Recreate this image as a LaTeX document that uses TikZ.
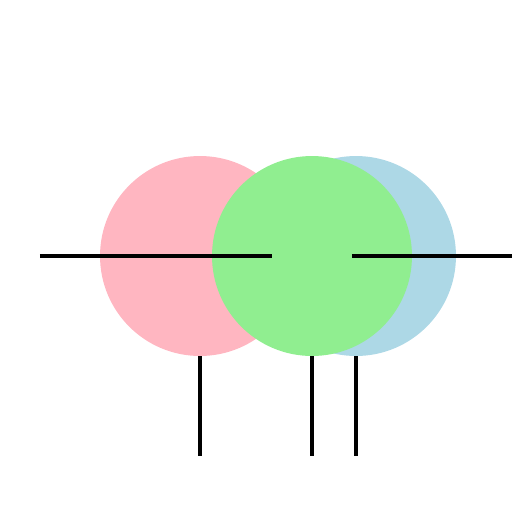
\documentclass[tikz,border=0pt]{standalone}
\usetikzlibrary{positioning}
\definecolor{lpink}{HTML}{FFB6C1}
\definecolor{lgreen}{HTML}{90EE90}
\definecolor{lblue}{HTML}{ADD8E6}
\begin{document}
\begin{tikzpicture}
[x=0.02cm,y=-0.02cm,%
  discdecorate/.style={shape=circle,inner sep=0pt,minimum size=4cm,draw=none},%
  linedecorate/.style={-,line width=0.08cm}]
\useasboundingbox (0,0) rectangle (512,512);
%% discs
\foreach \nodename/\x/\colour in {pink/200/lpink, blue/356/lblue, green/312/lgreen} {
  \node (\nodename) at (\x,256) [discdecorate,fill=\colour] {};
}
%% end points
\foreach \pointname/\x/\y in {
  la/40/256, lb/160/256, lc/152/256, ld/272/256,
  ra/352/256, rb/472/256, rc/512/256,
  pinkend/200/456, greenend/312/456, blueend/356/456} {
  \coordinate (\pointname) at (\x,\y);
}
%% lines
\path
\foreach \startnode/\endnode in {la/lb, lc/ld, ra/rb, rb/rc,
  pink.south/pinkend, green.south/greenend, blue.south/blueend} {
  (\startnode) edge[linedecorate] (\endnode)
};
\end{tikzpicture}
\end{document}
